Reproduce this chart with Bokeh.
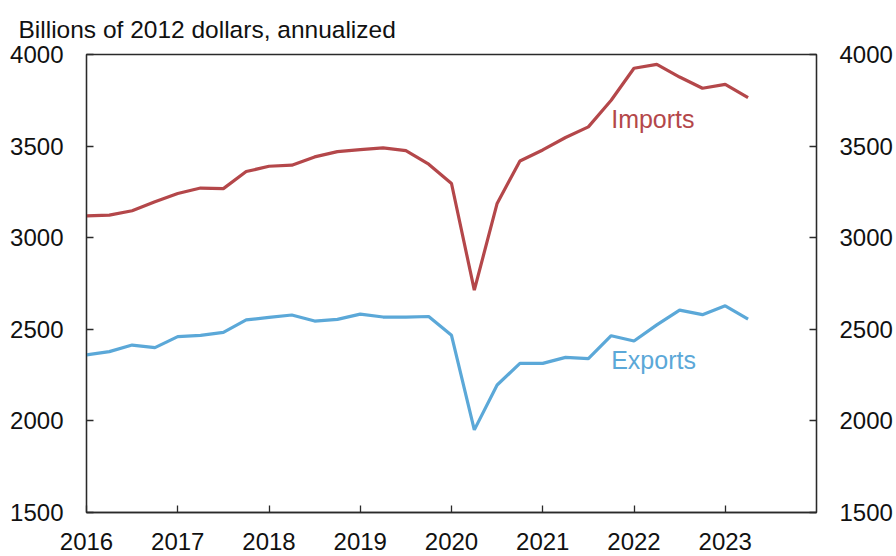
from bokeh.plotting import figure
from bokeh.models import Range1d, LinearAxis, FixedTicker, ColumnDataSource
from bokeh.core.properties import value
from bokeh.embed import file_html
from bokeh.resources import INLINE

# Quarterly data, 2016Q1 - 2023Q2 (billions of 2012 dollars, annualized)
quarters = [2016.0, 2016.25, 2016.5, 2016.75,
            2017.0, 2017.25, 2017.5, 2017.75,
            2018.0, 2018.25, 2018.5, 2018.75,
            2019.0, 2019.25, 2019.5, 2019.75,
            2020.0, 2020.25, 2020.5, 2020.75,
            2021.0, 2021.25, 2021.5, 2021.75,
            2022.0, 2022.25, 2022.5, 2022.75,
            2023.0, 2023.25]

imports = [3119, 3123, 3147, 3196,
           3241, 3271, 3268, 3361,
           3390, 3396, 3441, 3470,
           3481, 3490, 3475, 3401,
           3296, 2714, 3187, 3419,
           3479, 3547, 3605, 3750,
           3925, 3946, 3877, 3816,
           3837, 3764]

exports = [2360, 2378, 2414, 2400,
           2460, 2467, 2483, 2551,
           2565, 2578, 2545, 2554,
           2583, 2567, 2567, 2570,
           2467, 1951, 2196, 2314,
           2314, 2347, 2340, 2465,
           2436, 2524, 2605, 2580,
           2628, 2556]

x_ticks = [2016, 2017, 2018, 2019, 2020, 2021, 2022, 2023]
y_ticks = [1500, 2000, 2500, 3000, 3500, 4000]

series_names = ["Imports", "Exports"]
label_x = [2021.75, 2021.75]
label_y = [3649, 2332]

TITLE = "Billions of 2012 dollars, annualized"

RED = "#B4474A"
BLUE = "#5BA8D8"
FONT = "Liberation Sans"
AXIS_COLOR = "#2a2a2a"
TXT = "#111111"

p = figure(width=896, height=556, output_backend="svg", toolbar_location=None,
           x_range=Range1d(2016, 2024), y_range=Range1d(1500, 4000),
           min_border_left=86, min_border_right=80, min_border_top=54,
           min_border_bottom=44, title=TITLE)

p.title.text_font = FONT
p.title.text_font_size = "24.5px"
p.title.text_font_style = "normal"
p.title.text_color = TXT
p.title.text_line_height = 1.0
p.title.align = "left"
p.title.offset = -68
p.title.standoff = 24

p.xgrid.visible = False
p.ygrid.visible = False
p.outline_line_color = AXIS_COLOR
p.outline_line_width = 1.3
p.background_fill_color = "white"
p.border_fill_color = "white"

p.line(quarters, imports, line_color=RED, line_width=3.2)
p.line(quarters, exports, line_color=BLUE, line_width=3.2)

src = ColumnDataSource(dict(x=label_x, y=label_y, t=series_names, c=[RED, BLUE]))
p.text(x="x", y="y", text="t", text_color="c", source=src,
       text_font=value(FONT), text_font_size="25px",
       text_align="left", text_baseline="alphabetic")

def style_axis(ax, standoff):
    ax.ticker = FixedTicker(ticks=y_ticks)
    ax.major_tick_in = 7
    ax.major_tick_out = 0
    ax.minor_tick_line_color = None
    ax.axis_line_color = AXIS_COLOR
    ax.axis_line_width = 1.3
    ax.major_tick_line_color = AXIS_COLOR
    ax.major_tick_line_width = 1.3
    ax.major_label_text_font = FONT
    ax.major_label_text_font_size = "24px"
    ax.major_label_text_color = TXT
    ax.major_label_standoff = standoff

style_axis(p.yaxis[0], 23)
right = LinearAxis(y_range_name="default")
p.add_layout(right, "right")
style_axis(right, 23)

xa = p.xaxis[0]
xa.ticker = FixedTicker(ticks=x_ticks)
xa.major_tick_in = 7
xa.major_tick_out = 0
xa.minor_tick_line_color = None
xa.axis_line_color = AXIS_COLOR
xa.axis_line_width = 1.3
xa.major_tick_line_color = AXIS_COLOR
xa.major_tick_line_width = 1.3
xa.major_label_text_font = FONT
xa.major_label_text_font_size = "24px"
xa.major_label_text_color = TXT
xa.major_label_text_line_height = 1.0
xa.major_label_standoff = 20

open("out.html", "w").write(file_html(p, INLINE))
